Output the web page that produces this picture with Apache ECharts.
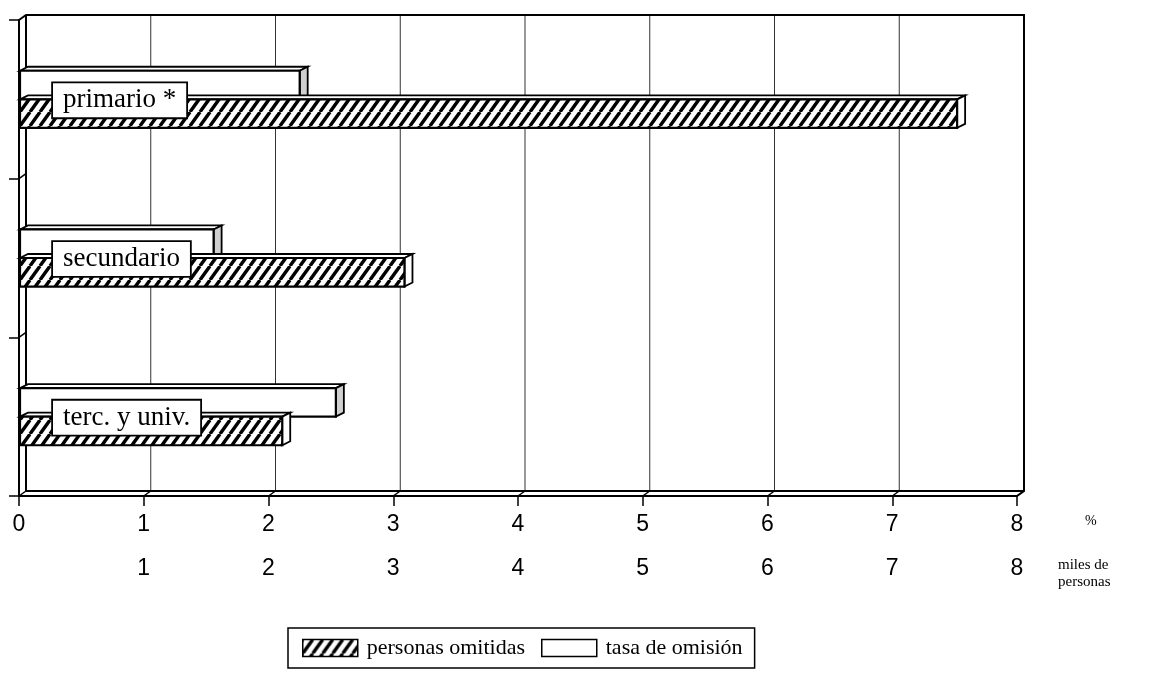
<!DOCTYPE html>
<html><head><meta charset="utf-8">
<script src="https://cdn.jsdelivr.net/npm/echarts@6/dist/echarts.min.js"></script>
<style>html,body{margin:0;padding:0;background:#fff;}#c{width:1161px;height:680px;}</style>
</head><body><div id="c"></div>
<script>
// ---- data ----
const categories = ['primario *', 'secundario', 'terc. y univ.'];
const tasaOmision = [2.25, 1.56, 2.54];       // %
const personasOmitidas = [7.52, 3.09, 2.11];  // miles de personas
const pctTicks = [0, 1, 2, 3, 4, 5, 6, 7, 8];
const milesTicks = [1, 2, 3, 4, 5, 6, 7, 8];
const seriesNames = ['personas omitidas', 'tasa de omisión'];
const unitPct = '%';
const unitMiles = 'miles de\npersonas';

// ---- styles ----
const DX = 7, DY = -5;     // wall depth
const BDX = 8, BDY = -4;   // bar depth
function makeHatch() {
  const w = 10, h = 14;
  const c = document.createElement('canvas');
  c.width = w; c.height = h;
  const g = c.getContext('2d');
  g.fillStyle = '#fff'; g.fillRect(0, 0, w, h);
  g.strokeStyle = '#000'; g.lineWidth = 3.4;
  [-w, 0, w].forEach(o => { g.beginPath(); g.moveTo(o, h); g.lineTo(o + w, 0); g.stroke(); });
  return c;
}
const hatch = { image: makeHatch(), repeat: 'repeat' };

function renderFrame(params, api) {
  const cs = params.coordSys;
  const x0 = cs.x, y0 = cs.y, x1 = cs.x + cs.width, y1 = cs.y + cs.height;
  const ch = [];
  pctTicks.forEach(v => {
    const x = api.coord([v, 0])[0];
    if (v > 0 && v < pctTicks[pctTicks.length - 1]) {
      ch.push({ type: 'line', shape: { x1: x + DX, y1: y0 + DY, x2: x + DX, y2: y1 + DY }, style: { stroke: '#333', lineWidth: 1 } });
    }
    ch.push({ type: 'line', shape: { x1: x, y1: y1, x2: x + DX, y2: y1 + DY }, style: { stroke: '#000', lineWidth: 1.5 } });
  });
  ch.push({ type: 'polyline', shape: { points: [[x0, y0], [x0 + DX, y0 + DY], [x1 + DX, y0 + DY], [x1 + DX, y1 + DY], [x1, y1]] }, style: { stroke: '#000', lineWidth: 2, fill: null } });
  ch.push({ type: 'polyline', shape: { points: [[x0 + DX, y0 + DY], [x0 + DX, y1 + DY], [x1 + DX, y1 + DY]] }, style: { stroke: '#000', lineWidth: 2, fill: null } });
  const band = api.size([0, 1])[1];
  for (let k = 1; k < categories.length; k++) {
    const yb = y0 + k * band;
    ch.push({ type: 'line', shape: { x1: x0, y1: yb, x2: x0 + DX, y2: yb + DY }, style: { stroke: '#000', lineWidth: 1.5 } });
  }
  return { type: 'group', children: ch };
}

function makeBarRenderer(isUpper, frontFill, sideFill) {
  return function (params, api) {
    const v = api.value(0), cat = api.value(1);
    const p = api.coord([v, cat]);
    const b = api.coord([0, cat]);
    const band = api.size([0, 1])[1];
    const th = band * 0.18;
    const yt = isUpper ? p[1] - th : p[1];
    const yb = isUpper ? p[1] : p[1] + th;
    const xa = b[0] + 1, xb = p[0];
    return { type: 'group', children: [
      { type: 'polygon', shape: { points: [[xa, yt], [xa + BDX, yt + BDY], [xb + BDX, yt + BDY], [xb, yt]] }, style: { fill: '#fff', stroke: '#000', lineWidth: 1.8 } },
      { type: 'polygon', shape: { points: [[xb, yt], [xb + BDX, yt + BDY], [xb + BDX, yb + BDY], [xb, yb]] }, style: { fill: sideFill, stroke: '#000', lineWidth: 1.8 } },
      { type: 'rect', shape: { x: xa, y: yt, width: xb - xa, height: yb - yt }, style: { fill: frontFill, stroke: '#000', lineWidth: 2.2 } }
    ] };
  };
}

function renderLabel(params, api) {
  const cat = api.value(1);
  const p = api.coord([0, cat]);
  return { type: 'text', x: p[0] + 34, y: p[1] + 1, z2: 10,
    style: { text: categories[cat], font: '27px "Liberation Serif"', fill: '#000', align: 'left', verticalAlign: 'middle',
      backgroundColor: '#fff', borderColor: '#000', borderWidth: 1.8, padding: [4, 10, 3, 10] } };
}

const numFont = { fontFamily: 'Liberation Sans', fontSize: 23, color: '#000' };
const chart = echarts.init(document.getElementById('c'), null, { renderer: 'canvas' });
chart.setOption({
  animation: false,
  backgroundColor: '#fff',
  grid: { left: 19, right: 144, top: 20, bottom: 184 },
  xAxis: [
    { type: 'value', min: 0, max: 8, interval: 1, position: 'bottom',
      axisLine: { show: true, lineStyle: { color: '#000', width: 2 } },
      axisTick: { show: true, length: 10, lineStyle: { color: '#000', width: 1.5 } },
      splitLine: { show: false },
      axisLabel: Object.assign({ margin: 17, formatter: v => pctTicks.includes(v) ? String(v) : '' }, numFont),
      name: unitPct, nameLocation: 'end', nameGap: 68,
      nameTextStyle: { fontFamily: 'Liberation Serif', fontSize: 14, color: '#000', align: 'left', verticalAlign: 'top', padding: [18, 0, 0, 0] } },
    { type: 'value', min: 0, max: 8, interval: 1, position: 'bottom', offset: 44,
      axisLine: { show: false }, axisTick: { show: false }, splitLine: { show: false },
      axisLabel: Object.assign({ margin: 17, formatter: v => milesTicks.includes(v) ? String(v) : '' }, numFont),
      name: unitMiles, nameLocation: 'end', nameGap: 41,
      nameTextStyle: { fontFamily: 'Liberation Serif', fontSize: 15, lineHeight: 17, color: '#000', align: 'left', verticalAlign: 'top', padding: [17, 0, 0, 0] } }
  ],
  yAxis: { type: 'category', data: categories, inverse: true,
    axisLine: { show: true, lineStyle: { color: '#000', width: 2 } },
    axisTick: { show: true, length: 10, lineStyle: { color: '#000', width: 1.5 } },
    axisLabel: { show: false }, splitLine: { show: false } },
  legend: { left: 288, top: 628, orient: 'horizontal', selectedMode: false,
    padding: [9, 12, 9, 14], itemGap: 16, itemWidth: 55, itemHeight: 17, icon: 'rect',
    borderColor: '#000', borderWidth: 1.5, backgroundColor: '#fff',
    textStyle: { fontFamily: 'Liberation Serif', fontSize: 22, color: '#000', padding: [0, 0, 0, 4] },
    data: [
      { name: seriesNames[0], itemStyle: { color: hatch, borderColor: '#000', borderWidth: 1.5 } },
      { name: seriesNames[1], itemStyle: { color: '#fff', borderColor: '#000', borderWidth: 1.5 } }
    ] },
  series: [
    { type: 'custom', name: 'frame', silent: true, xAxisIndex: 0, yAxisIndex: 0, z: 1,
      data: [[0, 0]], encode: { x: 0, y: 1 }, renderItem: renderFrame },
    { type: 'custom', name: seriesNames[1], xAxisIndex: 0, yAxisIndex: 0, z: 2,
      itemStyle: { color: '#fff', borderColor: '#000' },
      data: tasaOmision.map((v, i) => [v, i]), encode: { x: 0, y: 1 },
      renderItem: makeBarRenderer(true, '#fff', '#d0d0d0') },
    { type: 'custom', name: seriesNames[0], xAxisIndex: 1, yAxisIndex: 0, z: 3,
      itemStyle: { color: hatch, borderColor: '#000' },
      data: personasOmitidas.map((v, i) => [v, i]), encode: { x: 0, y: 1 },
      renderItem: makeBarRenderer(false, hatch, '#fff') },
    { type: 'custom', name: 'labels', silent: true, xAxisIndex: 0, yAxisIndex: 0, z: 4,
      data: categories.map((c, i) => [0, i]), encode: { x: 0, y: 1 },
      renderItem: renderLabel }
  ]
});
</script></body></html>
